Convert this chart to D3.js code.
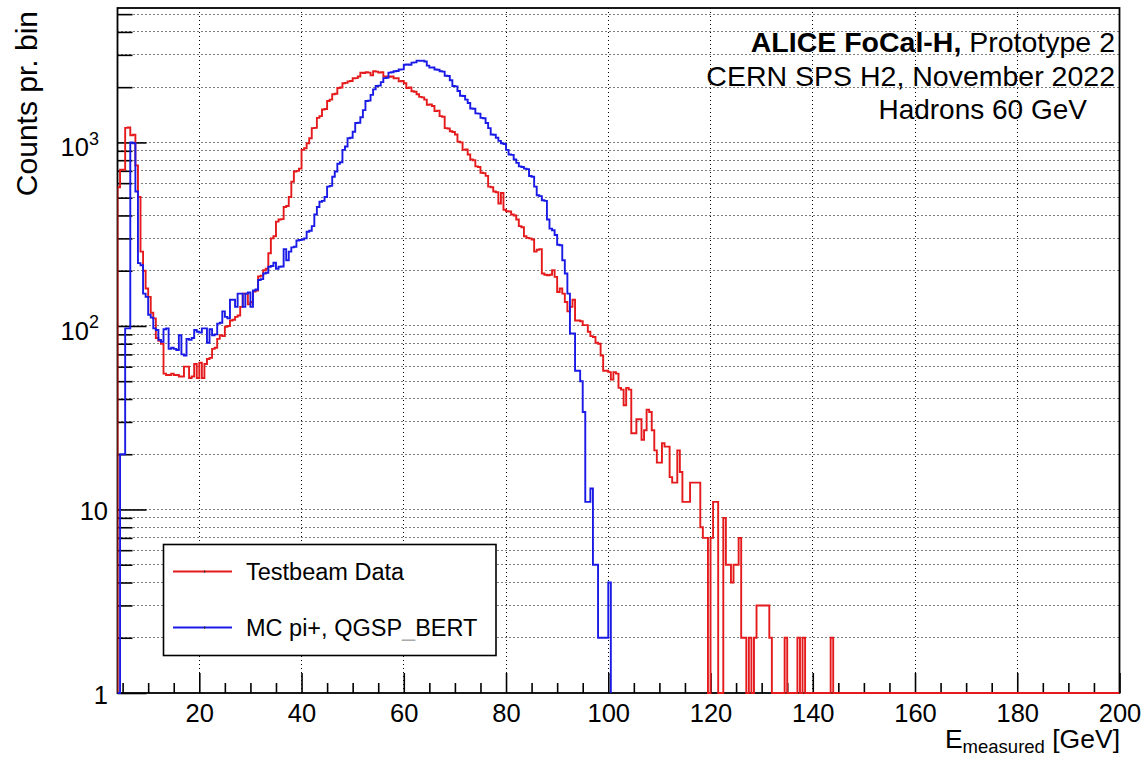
<!DOCTYPE html>
<html>
<head>
<meta charset="utf-8">
<script src="https://cdn.jsdelivr.net/npm/d3@7"></script>
<style>
body { margin: 0; background: #fff; }
svg text { font-family: "Liberation Sans", Arial, Helvetica, sans-serif; fill: #000; white-space: pre; }
</style>
</head>
<body>
<svg id="chart"></svg>
<script>
// histogram binning in GeV
var binLow = 4, binWidth = 0.5

// Testbeam data, counts per bin from 4 GeV (10 bins = 5 GeV per row)
var testbeam = [
    570, 710, 710, 1200, 1205, 1095, 1100, 750, 505, 254,
    200, 160, 144, 118, 110, 86, 83, 80, 55, 54,
    54, 55, 54, 54, 53, 53, 60, 60, 52, 53,
    62, 52, 63, 52, 62, 66, 67, 75, 76, 85,
    89, 88, 99, 100, 107, 108, 112, 114, 127, 150,
    150, 131, 135, 154, 156, 186, 188, 201, 205, 249,
    300, 308, 370, 380, 382, 445, 450, 504, 611, 694,
    700, 720, 911, 930, 990, 1054, 1196, 1200, 1360, 1390,
    1510, 1520, 1680, 1710, 1830, 1840, 1980, 1990, 2100, 2110,
    2150, 2160, 2235, 2240, 2285, 2400, 2390, 2410, 2400, 2320,
    2440, 2430, 2400, 2410, 2285, 2290, 2280, 2285, 2235, 2240,
    2150, 2160, 2100, 1980, 1990, 1900, 1890, 1830, 1770, 1760,
    1710, 1605, 1610, 1580, 1480, 1490, 1390, 1380, 1196, 1190,
    1150, 1140, 1105, 1010, 1000, 911, 915, 860, 807, 800,
    740, 735, 684, 680, 657, 574, 570, 540, 535, 465,
    530, 430, 422, 420, 405, 400, 380, 350, 345, 308,
    302, 300, 296, 254, 260, 262, 193, 190, 189, 190,
    201, 185, 153, 160, 150, 135, 120, 127, 139, 107,
    107, 106, 101, 101, 93, 88, 87, 81, 80, 69,
    57, 57, 56, 51, 56, 55, 46, 45, 37, 46,
    45, 26, 26, 31, 31, 24, 27, 35, 34, 27,
    21, 18, 18, 23, 22, 22, 15, 14, 14, 21,
    16, 11, 11, 11, 14, 14, 14, 14, 8, 7,
    7, 0, 7, 11, 11, 0, 0, 9, 5, 5,
    4, 5, 5, 7, 2, 2, 0, 2, 0, 2,
    3, 3, 3, 3, 3, 2, 0, 0, 0, 0,
    0, 2, 0, 0, 0, 0, 2, 0, 2, 0,
    0, 0, 0, 0, 0, 0, 0, 0, 0, 2
]

// MC pi+ QGSP_BERT, counts per bin from 4 GeV
var mcPi = [
    0, 20, 20, 97, 97, 1000, 990, 540, 220, 214,
    150, 144, 115, 111, 97, 95, 84, 82, 96, 97,
    75, 76, 75, 74, 89, 70, 69, 85, 84, 86,
    95, 93, 92, 97, 97, 81, 96, 89, 90, 103,
    104, 120, 112, 110, 139, 139, 127, 150, 150, 127,
    150, 152, 127, 156, 158, 178, 180, 193, 195, 210,
    212, 221, 205, 210, 211, 262, 228, 254, 268, 270,
    292, 294, 296, 300, 326, 330, 350, 405, 445, 475,
    480, 504, 574, 580, 650, 694, 765, 780, 911, 950,
    1054, 1060, 1144, 1275, 1280, 1370, 1500, 1680, 1690, 1815,
    1945, 2030, 2040, 2130, 2240, 2250, 2400, 2410, 2440, 2450,
    2495, 2500, 2650, 2660, 2650, 2720, 2730, 2790, 2780, 2790,
    2760, 2620, 2555, 2560, 2495, 2490, 2440, 2430, 2310, 2300,
    2180, 2030, 2020, 1905, 1795, 1790, 1710, 1640, 1530, 1525,
    1440, 1435, 1360, 1355, 1275, 1196, 1105, 1100, 1060, 1020,
    990, 980, 911, 860, 855, 807, 774, 740, 735, 720,
    715, 656, 650, 574, 515, 510, 484, 480, 380, 339,
    332, 313, 277, 275, 228, 193, 150, 91, 91, 57,
    57, 50, 34, 11, 11, 13, 5, 5, 2, 2,
    2, 2, 4
]

// axis ranges and ticks
var xMin = 4, xMax = 200
var yMin = 1, yMax = 5400
var xTicks = [20, 40, 60, 80, 100, 120, 140, 160, 180, 200]
var xMinorStep = 5
var yDecades = [1, 10, 100, 1000]
var yTickLabels = ['1', '10', '10^2', '10^3']

var seriesNames = ['Testbeam Data', 'MC pi+, QGSP_BERT']
var seriesColors = ['#e41a1c', '#1a1ae6']

var svgWidth = 1145, svgHeight = 761
var frame = {left: 117.5, right: 1119.5, top: 8, bottom: 693}

var svg = d3.select('#chart')
    .attr('width', svgWidth)
    .attr('height', svgHeight)

var x = d3.scaleLinear().domain([xMin, xMax]).range([frame.left, frame.right])
var y = d3.scaleLog().domain([yMin, yMax]).range([frame.bottom, frame.top]).clamp(true)

// snap grid lines onto pixel centres so the dots stay crisp
function px(v) { return Math.round(v - 0.5) + 0.5 }

// dotted grid
var grid = svg.append('g')
    .attr('stroke', '#000')
    .attr('stroke-width', 1)
    .attr('stroke-dasharray', '1,3')

grid.selectAll('.xg')
    .data(xTicks.filter(function(d) { return d < xMax }))
    .enter().append('line')
    .attr('x1', function(d) { return px(x(d)) })
    .attr('x2', function(d) { return px(x(d)) })
    .attr('y1', frame.top)
    .attr('y2', frame.bottom)

var yAll = y.ticks().filter(function(d) { return d > yMin && d <= yMax })
grid.selectAll('.yg')
    .data(yAll)
    .enter().append('line')
    .attr('x1', frame.left)
    .attr('x2', frame.right)
    .attr('y1', function(d) { return px(y(d)) })
    .attr('y2', function(d) { return px(y(d)) })

// axes with ROOT-style inward ticks
var xMinor = d3.range(xMin + 1, xMax, 1).filter(function(d) {
    return d % xMinorStep === 0 && xTicks.indexOf(d) < 0
})
var yMinor = yAll.filter(function(d) { return yDecades.indexOf(d) < 0 })

function styleAxis(g) {
    g.select('.domain').remove()
    g.selectAll('.tick line').attr('stroke', '#000').attr('stroke-width', 1.6)
}

svg.append('g')
    .attr('transform', 'translate(0,' + frame.bottom + ')')
    .call(d3.axisBottom(x).tickValues(xMinor).tickSize(-10).tickFormat(''))
    .call(styleAxis)

var xAxisG = svg.append('g')
    .attr('transform', 'translate(0,' + frame.bottom + ')')
    .call(d3.axisBottom(x).tickValues(xTicks).tickSize(-20).tickSizeOuter(0).tickPadding(11))
    .call(styleAxis)
xAxisG.selectAll('text')
    .attr('font-size', 25.5)
    .attr('font-family', '"Liberation Sans", Arial, sans-serif')
    .attr('fill', '#000')

svg.append('g')
    .attr('transform', 'translate(' + frame.left + ',0)')
    .call(d3.axisLeft(y).tickValues(yMinor).tickSize(-15).tickFormat(''))
    .call(styleAxis)

svg.append('g')
    .attr('transform', 'translate(' + frame.left + ',0)')
    .call(d3.axisLeft(y).tickValues(yDecades).tickSize(-29).tickFormat(''))
    .call(styleAxis)

// y tick labels, with superscripts
var yLab = svg.append('g').attr('font-size', 25.5)
yDecades.forEach(function(v, i) {
    var parts = yTickLabels[i].split('^')
    var t = yLab.append('text')
        .attr('text-anchor', 'end')
        .attr('x', parts.length > 1 ? 99 : 108)
        .attr('y', y(v) + (parts.length > 1 ? 14 : 11))
        .text(parts[0])
    if (parts.length > 1) {
        t.append('tspan')
            .attr('font-size', 18)
            .attr('dy', -11.5)
            .text(parts[1])
    }
})

// axis titles
svg.append('text')
    .attr('transform', 'translate(37,11) rotate(-90)')
    .attr('text-anchor', 'end')
    .attr('font-size', 30)
    .text('Counts pr. bin')

var xTitle = svg.append('text')
    .attr('x', 1120)
    .attr('y', 748)
    .attr('text-anchor', 'end')
    .attr('font-size', 26.5)
xTitle.append('tspan').text('E')
xTitle.append('tspan').attr('font-size', 18.5).attr('dy', 5).text('measured')
xTitle.append('tspan').attr('dy', -5).text(' [GeV]')

// frame
svg.append('rect')
    .attr('x', frame.left)
    .attr('y', frame.top)
    .attr('width', frame.right - frame.left)
    .attr('height', frame.bottom - frame.top)
    .attr('fill', 'none')
    .attr('stroke', '#000')
    .attr('stroke-width', 1.8)

// histograms
svg.append('clipPath').attr('id', 'plotclip')
    .append('rect')
    .attr('x', frame.left)
    .attr('y', frame.top)
    .attr('width', frame.right - frame.left)
    .attr('height', frame.bottom - frame.top + 1.5)

function histPoints(counts, extendTo) {
    var pts = [[binLow, yMin]]
    counts.forEach(function(c, i) { pts.push([binLow + i * binWidth, c]) })
    var end = binLow + counts.length * binWidth
    pts.push([end, counts[counts.length - 1]])
    pts.push([end, yMin])
    if (extendTo) pts.push([extendTo, yMin])
    return pts
}

var histLine = d3.line()
    .x(function(d) { return x(d[0]) })
    .y(function(d) { return y(Math.max(d[1], yMin)) })
    .curve(d3.curveStepAfter)

var histG = svg.append('g').attr('clip-path', 'url(#plotclip)')
histG.append('path')
    .attr('d', histLine(histPoints(testbeam, xMax)))
    .attr('fill', 'none')
    .attr('stroke', seriesColors[0])
    .attr('stroke-width', 1.9)
histG.append('path')
    .attr('d', histLine(histPoints(mcPi)))
    .attr('fill', 'none')
    .attr('stroke', seriesColors[1])
    .attr('stroke-width', 1.9)

// legend
var legend = svg.append('g')
legend.append('rect')
    .attr('x', 163.5).attr('y', 544.5)
    .attr('width', 332.5).attr('height', 111)
    .attr('fill', '#fff')
    .attr('stroke', '#000')
    .attr('stroke-width', 1.6)

var legendRows = [571.5, 627.5]
seriesNames.forEach(function(name, i) {
    legend.append('line')
        .attr('x1', 173).attr('x2', 232)
        .attr('y1', legendRows[i]).attr('y2', legendRows[i])
        .attr('stroke', seriesColors[i])
        .attr('stroke-width', 1.9)
    legend.append('rect')
        .attr('x', 204).attr('y', legendRows[i] - 1)
        .attr('width', 1.2).attr('height', 2)
        .attr('fill', '#222')
    var t = legend.append('text')
        .attr('x', 246)
        .attr('y', legendRows[i] + 8.5)
        .attr('font-size', 23.5)
    var bits = name.split('_')
    t.append('tspan').text(bits[0])
    if (bits.length > 1) {
        t.append('tspan').attr('fill', '#aaa').text('_')
        t.append('tspan').text(bits[1])
    }
})

// experiment info text
var info = svg.append('g').attr('font-size', 28.5).attr('text-anchor', 'end')
var l1 = info.append('text').attr('x', 1115).attr('y', 52)
l1.append('tspan').attr('font-weight', 'bold').text('ALICE FoCal-H,')
l1.append('tspan').text(' Prototype 2')
info.append('text').attr('x', 1115).attr('y', 86).text('CERN SPS H2, November 2022')
info.append('text').attr('x', 1087).attr('y', 119).attr('font-size', 28).text('Hadrons 60 GeV')
</script>
</body>
</html>
